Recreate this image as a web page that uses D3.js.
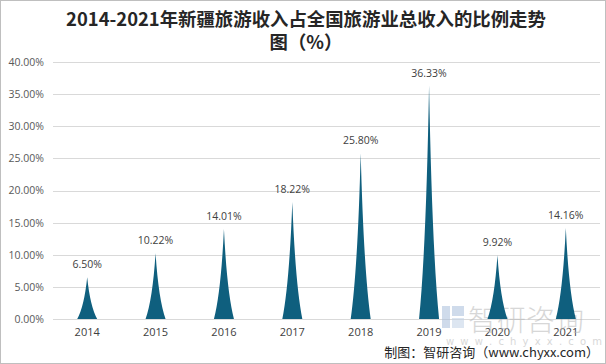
<!DOCTYPE html>
<html><head><meta charset="utf-8">
<script src="https://cdn.jsdelivr.net/npm/d3@7"></script>
<style>html,body{margin:0;padding:0;background:#fff;}svg{display:block;}</style>
</head><body>
<script>
const years = ["2014","2015","2016","2017","2018","2019","2020","2021"];
const shares = [6.50, 10.22, 14.01, 18.22, 25.80, 36.33, 9.92, 14.16];
const yTicks = [0, 5, 10, 15, 20, 25, 30, 35, 40];
const titleLines = ["2014-2021年新疆旅游收入占全国旅游业总收入的比例走势", "图（%）"];
const sourceText = "制图：智研咨询（www.chyxx.com）";

const W = 606, H = 364;
const svg = d3.select("body").append("svg").attr("width", W).attr("height", H);
svg.append("rect").attr("x",0.5).attr("y",0.5).attr("width",W-1).attr("height",H-1)
  .attr("fill","#fff").attr("stroke","#bfbfbf");

const m = {left:53, right:6, top:62, bottom:45};
const x = d3.scaleBand().domain(years).range([m.left, W-m.right]);
const y = d3.scaleLinear().domain([0,40]).range([H-m.bottom, m.top]);

// grid
svg.append("g").selectAll("line").data(yTicks).join("line")
  .attr("x1", m.left).attr("x2", W-m.right)
  .attr("y1", d=>Math.round(y(d))+0.5).attr("y2", d=>Math.round(y(d))+0.5)
  .attr("stroke","#d9d9d9").attr("stroke-width",1);

const yAxis = svg.append("g").attr("transform",`translate(${m.left},0)`)
  .call(d3.axisLeft(y).tickValues(yTicks).tickFormat(d=>d.toFixed(2)+"%").tickSize(0).tickPadding(9));
yAxis.select(".domain").remove();
yAxis.selectAll("text").attr("fill","#595959").style("font-family","'Open Sans','DejaVu Sans',sans-serif").style("font-size","10.5px");

const xAxis = svg.append("g").attr("transform",`translate(0,${y(0)})`)
  .call(d3.axisBottom(x).tickSize(0).tickPadding(9));
xAxis.select(".domain").remove();
xAxis.selectAll("text").attr("fill","#404040").style("font-family","'Open Sans','DejaVu Sans',sans-serif").style("font-size","11px");

// watermark
const wm = svg.append("g").attr("opacity",0.55);
wm.append("rect").attr("x",442).attr("y",306).attr("width",8).attr("height",22).attr("fill","#a9bfdc");
wm.append("rect").attr("x",452).attr("y",306).attr("width",12).attr("height",10).attr("fill","#a9bfdc");
wm.append("rect").attr("x",452).attr("y",318).attr("width",12).attr("height",10).attr("fill","#c3d2e6");
wm.append("text").attr("x",468).attr("y",331).text("智研咨询")
  .attr("fill","#b8b8b8").style("font-family","'Noto Sans CJK SC'").style("font-size","29px").style("font-weight","300");
wm.append("text").attr("x",446).attr("y",345).text("w w w . c h y x x . c o m")
  .attr("fill","#b8b8b8").style("font-family","'DejaVu Sans'").style("font-size","10px").style("letter-spacing","1.5px");

// spikes
const hw = 10;
function spike(d){
  const cx = x(d.year) + x.bandwidth()/2, y0 = y(0), yt = y(d.v), h = y0-yt;
  const p = d3.path();
  p.moveTo(cx-hw, y0);
  p.quadraticCurveTo(cx-hw*0.3, y0-h*0.3, cx, yt);
  p.quadraticCurveTo(cx+hw*0.3, y0-h*0.3, cx+hw, y0);
  p.closePath();
  return p.toString();
}
const data = years.map((yr,i)=>({year:yr, v:shares[i]}));
svg.append("g").selectAll("path").data(data).join("path")
  .attr("d", spike).attr("fill","#0f5f7e");

svg.append("g").selectAll("text").data(data).join("text")
  .attr("x", d=>x(d.year)+x.bandwidth()/2).attr("y", d=>y(d.v)-9)
  .attr("text-anchor","middle").text(d=>d.v.toFixed(2)+"%")
  .attr("fill","#404040").style("font-family","'Open Sans','DejaVu Sans',sans-serif").style("font-size","10.5px");

// title
svg.append("g").selectAll("text").data(titleLines).join("text")
  .attr("x", 306).attr("y",(d,i)=>26+i*23).attr("text-anchor","middle").text(d=>d)
  .attr("fill","#262626").style("font-family","'Noto Sans CJK SC'").style("font-weight","bold").style("font-size","18.4px");

svg.append("text").attr("x",599).attr("y",357).attr("text-anchor","end").text(sourceText)
  .attr("fill","#262626").style("font-family","'Noto Sans CJK SC'").style("font-size","13px");
</script>
</body></html>
